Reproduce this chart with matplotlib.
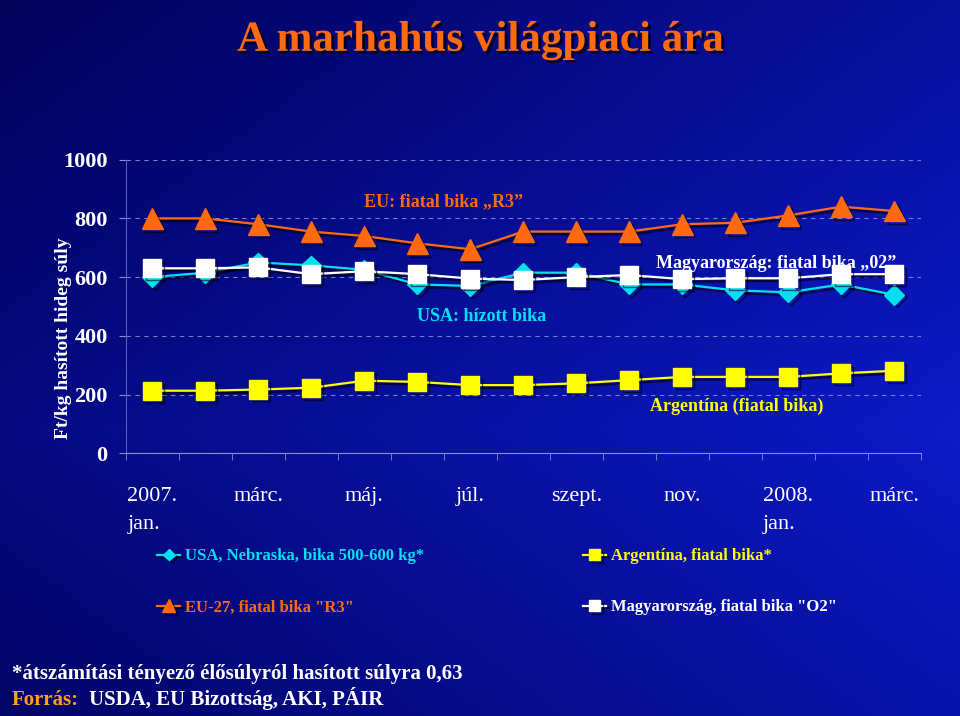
import numpy as np
import matplotlib
matplotlib.use("Agg")
import matplotlib.pyplot as plt
import matplotlib.patheffects as pe

# data (Ft/kg, 2007 jan - 2008 márc)
months = ["2007.\njan.", "febr.", "márc.", "ápr.", "máj.", "jún.", "júl.", "aug.",
          "szept.", "okt.", "nov.", "dec.", "2008.\njan.", "febr.", "márc."]
usa = [600, 615, 650, 640, 625, 575, 570, 615, 615, 575, 575, 555, 548, 575, 540]
eu = [800, 800, 780, 755, 740, 715, 695, 755, 755, 755, 780, 785, 810, 840, 825]
argentina = [213, 213, 217, 223, 247, 243, 232, 232, 238, 249, 260, 260, 260, 272, 281]
hungary = [630, 630, 633, 610, 620, 610, 595, 590, 600, 607, 593, 596, 596, 610, 610]

plt.rcParams['font.family'] = ['Liberation Serif', 'DejaVu Serif']

fig = plt.figure(figsize=(9.6, 7.16), dpi=100)

# background gradient
bg = fig.add_axes([0, 0, 1, 1])
yy, xx = np.mgrid[0:1:200j, 0:1:260j]
t = np.clip(0.6 * xx + 0.4 * (1 - np.abs(yy - 0.6) * 1.5), 0, 1)
dark = np.array([0.0, 0.0, 0.33])
light = np.array([0.05, 0.10, 0.78])
img = dark + (light - dark) * t[..., None]
bg.imshow(img, aspect='auto', extent=[0, 1, 0, 1], origin='upper')
bg.axis('off')

ax = fig.add_axes([0.131, 0.367, 0.828, 0.41])
ax.set_facecolor('none')
x = np.arange(len(months))
shadow = [pe.SimpleLineShadow(offset=(2, -2), shadow_color='black', alpha=0.6), pe.Normal()]

ax.plot(x, usa, color='#00e0f0', lw=1.6, marker='D', ms=10, mec='#00e0f0',
        label='USA, Nebraska, bika 500-600 kg*', path_effects=shadow, zorder=3)
ax.plot(x, eu, color='#ff6a10', lw=1.6, marker='^', ms=15, mec='#ff6a10',
        label='EU-27, fiatal bika "R3"', path_effects=shadow, zorder=3)
ax.plot(x, argentina, color='#ffff00', lw=1.6, marker='s', ms=13, mec='#ffff00',
        label='Argentína, fiatal bika*', path_effects=shadow, zorder=3)
ax.plot(x, hungary, color='#ffffff', lw=1.6, marker='s', ms=13, mec='#ffffff',
        label='Magyarország, fiatal bika "O2"', path_effects=shadow, zorder=4)

ax.set_xlim(-0.5, len(months) - 0.5)
ax.set_ylim(0, 1000)
ax.set_yticks(range(0, 1001, 200))
ax.yaxis.grid(True, linestyle=(0, (4, 4)), color='#7080d0', lw=0.8)
ax.set_xticks(x[::2])
ax.set_xticklabels(months[::2], multialignment='left', linespacing=1.7)
ax.set_xticks(np.arange(-0.5, len(months), 1), minor=True)
ax.tick_params(axis='x', which='major', length=0, pad=24, labelsize=16, colors='white')
ax.tick_params(axis='x', which='minor', length=5, color='#8090d0')
ax.tick_params(axis='y', length=5, pad=8, labelsize=16, colors='white', color='#8090d0')
for lab in ax.get_yticklabels():
    lab.set_fontweight('bold')
for s in ['top', 'right']:
    ax.spines[s].set_visible(False)
ax.spines['left'].set_color('#5060c0')
ax.spines['bottom'].set_color('#8090d0')

ax.set_ylabel('Ft/kg hasított hideg súly', color='white', fontsize=14,
              fontweight='bold')
ax.yaxis.set_label_coords(-0.068, 0.39)

# series annotations
ax.text(0.40, 0.857, 'EU: fiatal bika \u201eR3\u201d', transform=ax.transAxes,
        color='#ff6a10', fontsize=13, fontweight='bold', ha='center', va='center')
ax.text(0.447, 0.467, 'USA: hízott bika', transform=ax.transAxes,
        color='#00e0f0', fontsize=13, fontweight='bold', ha='center', va='center')
ax.text(0.818, 0.645, 'Magyarország: fiatal bika \u201e02\u201d', transform=ax.transAxes,
        color='white', fontsize=13, fontweight='bold', ha='center', va='center')
ax.text(0.768, 0.16, 'Argentína (fiatal bika)', transform=ax.transAxes,
        color='#ffff00', fontsize=13, fontweight='bold', ha='center', va='center')

leg = fig.legend(loc='upper left', bbox_to_anchor=(0.148, 0.255), ncol=2,
                 frameon=False, fontsize=12, labelcolor='linecolor',
                 handlelength=1.4, handletextpad=0.3, columnspacing=9.5,
                 labelspacing=2.1, markerscale=0.6)
for t_ in leg.get_texts():
    t_.set_fontweight('bold')

fig.text(0.5, 0.943, 'A marhahús világpiaci ára', color='#ff6a10', fontsize=31,
         fontweight='bold', ha='center', va='center',
         path_effects=[pe.withSimplePatchShadow(offset=(2, -2), shadow_rgbFace='black', alpha=0.7)])

fig.text(0.012, 0.052, '*átszámítási tényező élősúlyról hasított súlyra 0,63',
         color='white', fontsize=15, fontweight='bold', va='baseline')
fig.text(0.012, 0.016, 'Forrás:', color='#ffa020', fontsize=15,
         fontweight='bold', va='baseline')
fig.text(0.093, 0.016, 'USDA, EU Bizottság, AKI, PÁIR', color='white', fontsize=15,
         fontweight='bold', va='baseline')

fig.savefig('out.png', dpi=100)
